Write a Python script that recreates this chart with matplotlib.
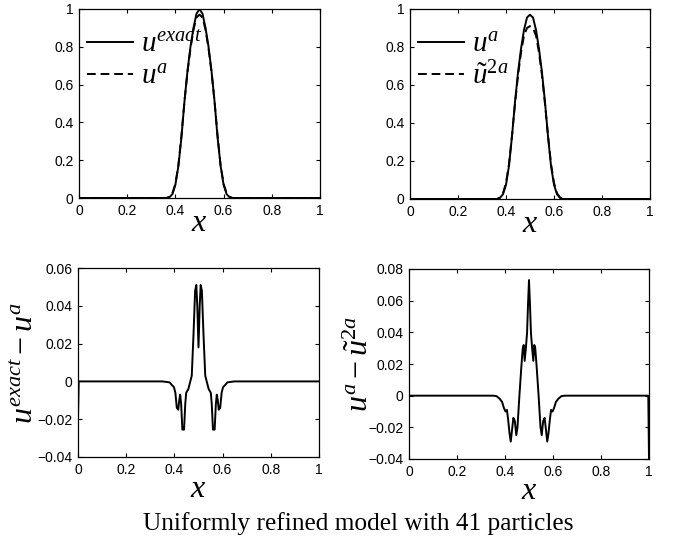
import matplotlib
matplotlib.use("Agg")
import matplotlib.pyplot as plt
from matplotlib.ticker import FixedLocator, FixedFormatter

plt.rcParams['font.family'] = ['Liberation Sans', 'DejaVu Sans']
plt.rcParams['mathtext.fontset'] = 'custom'
plt.rcParams['mathtext.it'] = 'Liberation Serif:italic'
plt.rcParams['mathtext.rm'] = 'Liberation Serif'
plt.rcParams['mathtext.bf'] = 'Liberation Serif:bold'

# ---------------- data ----------------
x_peak = [0, 0.35, 0.3625, 0.375, 0.3875, 0.4, 0.4125, 0.425, 0.4375, 0.45, 0.4625,
          0.475, 0.4875, 0.5, 0.5125, 0.525, 0.5375, 0.55, 0.5625, 0.575, 0.5875,
          0.6, 0.6125, 0.625, 0.6375, 0.65, 1]
u_exact = [0, 0, 0, 0.004, 0.02, 0.07, 0.17, 0.32, 0.51, 0.67, 0.80, 0.90, 0.975, 1.0,
           0.975, 0.90, 0.80, 0.67, 0.51, 0.32, 0.17, 0.07, 0.02, 0.004, 0, 0, 0]
u_a = [0, 0, 0, 0.006, 0.025, 0.075, 0.175, 0.33, 0.51, 0.665, 0.79, 0.89, 0.955, 0.97,
       0.955, 0.89, 0.79, 0.665, 0.51, 0.33, 0.175, 0.075, 0.025, 0.006, 0, 0, 0]
u_2a = [0, 0, 0, 0.008, 0.03, 0.085, 0.185, 0.335, 0.50, 0.65, 0.77, 0.86, 0.90, 0.91,
        0.90, 0.86, 0.77, 0.65, 0.50, 0.335, 0.185, 0.085, 0.03, 0.008, 0, 0, 0]

x_err1 = [0, 0.003, 0.35, 0.38, 0.39, 0.398, 0.404, 0.41, 0.416, 0.42, 0.424, 0.428,
          0.433, 0.44, 0.445, 0.449, 0.458, 0.466, 0.472, 0.479, 0.486, 0.491, 0.495,
          0.5, 0.505, 0.509, 0.514, 0.521, 0.528, 0.534, 0.542, 0.551, 0.555, 0.56,
          0.567, 0.572, 0.576, 0.58, 0.584, 0.59, 0.596, 0.602, 0.61, 0.62, 0.65, 1]
err1 = [-0.019, 0, 0, -0.0005, -0.002, -0.003, -0.006, -0.014, -0.015, -0.010, -0.007,
        -0.012, -0.0255, -0.0255, -0.012, -0.006, -0.004, 0.0, 0.003, 0.024, 0.048,
        0.051, 0.04, 0.018, 0.04, 0.051, 0.048, 0.024, 0.003, 0.0, -0.004, -0.006,
        -0.012, -0.0255, -0.0255, -0.012, -0.007, -0.010, -0.015, -0.014, -0.006,
        -0.003, -0.002, -0.0005, 0, 0]

x_err2 = [0, 0.35, 0.365, 0.378, 0.388, 0.396, 0.402, 0.408, 0.413, 0.419, 0.424, 0.429,
          0.435, 0.441, 0.447, 0.452, 0.46, 0.468, 0.474, 0.478, 0.482, 0.487, 0.492,
          0.496, 0.5, 0.504, 0.508, 0.513, 0.518, 0.522, 0.526, 0.532, 0.54, 0.548,
          0.553, 0.559, 0.565, 0.571, 0.576, 0.581, 0.587, 0.592, 0.598, 0.604, 0.612,
          0.622, 0.635, 0.65, 0.997, 1]
err2 = [0, 0, -0.0003, -0.002, -0.004, -0.008, -0.010, -0.009, -0.015, -0.024, -0.029,
        -0.022, -0.014, -0.016, -0.025, -0.020, 0.0, 0.018, 0.030, 0.032, 0.022, 0.030,
        0.040, 0.058, 0.073, 0.058, 0.040, 0.030, 0.022, 0.032, 0.030, 0.018, 0.0,
        -0.020, -0.025, -0.016, -0.014, -0.022, -0.029, -0.024, -0.015, -0.009, -0.010,
        -0.008, -0.004, -0.002, -0.0003, 0, 0, -0.04]

x_ticks = [0, 0.2, 0.4, 0.6, 0.8, 1]
x_ticklabels = ['0', '0.2', '0.4', '0.6', '0.8', '1']
y_ticks_top = [0, 0.2, 0.4, 0.6, 0.8, 1]
y_ticklabels_top = ['0', '0.2', '0.4', '0.6', '0.8', '1']
y_ticks_bl = [-0.04, -0.02, 0, 0.02, 0.04, 0.06]
y_ticklabels_bl = ['\u22120.04', '\u22120.02', '0', '0.02', '0.04', '0.06']
y_ticks_br = [-0.04, -0.02, 0, 0.02, 0.04, 0.06, 0.08]
y_ticklabels_br = ['\u22120.04', '\u22120.02', '0', '0.02', '0.04', '0.06', '0.08']

caption = 'Uniformly refined model with 41 particles'

# ---------------- figure ----------------
fig = plt.figure(figsize=(6.73, 5.5), dpi=100)
W, H = 673.0, 550.0

def add_ax(l, t, r, b):
    return fig.add_axes([l / W, 1 - b / H, (r - l) / W, (b - t) / H])

ax_tl = add_ax(79, 9, 320, 198)
ax_tr = add_ax(410, 9, 650, 199)
ax_bl = add_ax(78, 268, 319, 457)
ax_br = add_ax(409, 269, 649, 459)

LW = 1.4
DASH = (0, (4.5, 2.5))

def style(ax, yt, ytl, ylim, xpad):
    ax.set_xlim(0, 1)
    ax.set_ylim(*ylim)
    ax.xaxis.set_major_locator(FixedLocator(x_ticks))
    ax.xaxis.set_major_formatter(FixedFormatter(x_ticklabels))
    ax.yaxis.set_major_locator(FixedLocator(yt))
    ax.yaxis.set_major_formatter(FixedFormatter(ytl))
    ax.tick_params(direction='in', top=True, right=True, length=3, width=0.8,
                   labelsize=10, pad=4)
    for s in ax.spines.values():
        s.set_linewidth(0.9)
    ax.set_xlabel(r'$x$', fontsize=23, labelpad=xpad)

leg_kw = dict(loc='upper left', bbox_to_anchor=(-0.035, 0.975), frameon=False,
              fontsize=21, handlelength=1.6, handletextpad=0.25, labelspacing=0.15,
              borderaxespad=0.15)

# top-left
ax_tl.plot(x_peak, u_exact, color='black', lw=LW, label=r'$u^{exact}$')
ax_tl.plot(x_peak, u_a, color='black', lw=LW, linestyle=DASH, label=r'$u^{a}$')
style(ax_tl, y_ticks_top, y_ticklabels_top, (0, 1), -7)
ax_tl.legend(**leg_kw)

# top-right
ax_tr.plot(x_peak, u_a, color='black', lw=LW, label=r'$u^{a}$')
ax_tr.plot(x_peak, u_2a, color='black', lw=LW, linestyle=DASH, label=r'$\tilde{u}^{2a}$')
style(ax_tr, y_ticks_top, y_ticklabels_top, (0, 1), -7)
ax_tr.legend(**leg_kw)

# bottom-left
ax_bl.plot(x_err1, err1, color='black', lw=LW)
style(ax_bl, y_ticks_bl, y_ticklabels_bl, (-0.04, 0.06), -2)
ax_bl.set_ylabel(r'$u^{exact}-u^{a}$', fontsize=23, labelpad=-2)

# bottom-right
ax_br.plot(x_err2, err2, color='black', lw=LW)
style(ax_br, y_ticks_br, y_ticklabels_br, (-0.04, 0.08), -2)
ax_br.set_ylabel(r'$u^{a}-\tilde{u}^{2a}$', fontsize=23, labelpad=-5)

fig.text(358 / W, 1 - 524 / H, caption, fontsize=18.3, family='Liberation Serif',
         ha='center', va='center')

fig.savefig('out.png', dpi=100)
